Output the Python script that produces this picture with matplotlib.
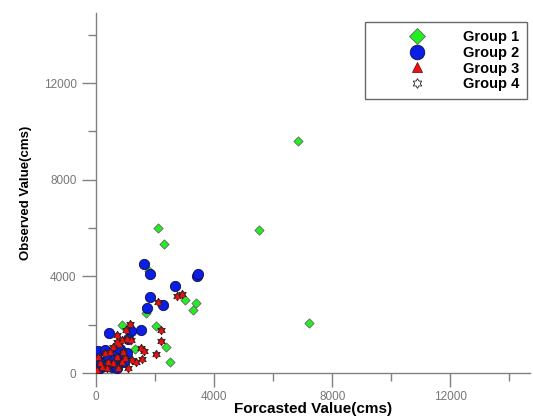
import numpy as np
import matplotlib
matplotlib.use("Agg")
import matplotlib.pyplot as plt
from matplotlib.path import Path
from matplotlib.lines import Line2D

plt.rcParams['font.family'] = ['Liberation Sans', 'DejaVu Sans']

# ---- data ----
g1x = [6847, 5525, 7220, 2100, 2305, 1807, 3017, 3400, 3277, 1705, 893, 2045, 2373, 1333, 2508, 600, 400]
g1y = [9590, 5911, 2067, 5994, 5333, 4229, 3018, 2906, 2604, 2480, 1997, 1943, 1088, 1005, 455, 700, 450]

g2x = [1627, 1830, 3435, 3440, 2678, 1830, 2260, 1740, 1525, 1175, 429, 1096, 79, 305, 644, 814, 1040,
       79, 249, 531, 757, 870, 418, 136, 600, 950, 350, 700]
g2y = [4506, 4093, 4023, 4110, 3610, 3129, 2811, 2687, 1791, 1736, 1654, 1392, 909, 951, 840, 980, 810,
       537, 397, 262, 397, 674, 674, 194, 550, 450, 300, 200]

g3x = [2090, 2757, 2927, 1153, 1006, 2203, 2192, 712, 870, 1186, 1514, 1615, 2034, 1548, 1096, 1344,
       1040, 791, 576, 700, 305, 475, 700, 927, 1209, 362, 22, 192, 588, 870, 983, 418, 136, 757, 79]
g3y = [2921, 3197, 3253, 2025, 1777, 1791, 1306, 1557, 1350, 1364, 1020, 923, 799, 564, 207, 468,
       1405, 1213, 1088, 1295, 810, 882, 674, 882, 537, 194, 124, 262, 397, 468, 607, 468, 397, 194, 674]

g4x = list(g3x)
g4y = list(g3y)

labels = ["Group 1", "Group 2", "Group 3", "Group 4"]
xticks_major = [0, 4000, 8000, 12000]
yticks_major = [0, 4000, 8000, 12000]

# hexagram marker (star of David outline)
ang = np.deg2rad(np.arange(12) * 30 + 90)
rad = np.where(np.arange(12) % 2 == 0, 1.0, 1.0 / np.sqrt(3))
verts = np.column_stack([rad * np.cos(ang), rad * np.sin(ang)])
verts = np.vstack([verts, verts[:1]])
codes = [Path.MOVETO] + [Path.LINETO] * 11 + [Path.CLOSEPOLY]
hexagram = Path(verts, codes)

fig = plt.figure(figsize=(5.33, 4.19), dpi=100)
ax = fig.add_axes([96 / 533, 46 / 419, 434 / 533, 360 / 419])

ax.scatter(g1x, g1y, marker='D', s=22, c='#22ee22', edgecolors='#666666', linewidths=0.6, zorder=3)
ax.scatter(g2x, g2y, marker='o', s=55, c='#0a1ee6', edgecolors='#101040', linewidths=0.6, zorder=4)
ax.scatter(g4x, g4y, marker=hexagram, s=38, c='#991111', edgecolors='#222222', linewidths=0.6, zorder=5)
ax.scatter(g3x, g3y, marker='^', s=12, c='#ee1111', edgecolors='#ee1111', linewidths=0.3, zorder=6)

ax.set_xlim(0, 14700)
ax.set_ylim(0, 14900)
ax.set_xticks(xticks_major)
ax.set_yticks(yticks_major)
ax.set_xticks([2000, 6000, 10000, 14000], minor=True)
ax.set_yticks([2000, 6000, 10000, 14000], minor=True)

gray = '#808080'
for s in ['top', 'right']:
    ax.spines[s].set_visible(False)
for s in ['left', 'bottom']:
    ax.spines[s].set_color(gray)
    ax.spines[s].set_linewidth(1.0)
ax.tick_params(which='major', length=10, width=1.0, color=gray, labelcolor='#777777', labelsize=8.5, pad=4)
ax.tick_params(axis='x', which='major', pad=3)
ax.tick_params(which='minor', length=5.5, width=1.0, color=gray)

ax.set_xlabel("Forcasted Value(cms)", fontsize=11, fontweight='bold', labelpad=-0.5)
ax.set_ylabel("Observed Value(cms)", fontsize=9.5, fontweight='bold', labelpad=8)

handles = [
    Line2D([], [], linestyle='none', marker='D', markersize=8, markerfacecolor='#22ee22', markeredgecolor='#666666', markeredgewidth=0.6),
    Line2D([], [], linestyle='none', marker='o', markersize=10.5, markerfacecolor='#0a1ee6', markeredgecolor='#101040', markeredgewidth=0.6),
    Line2D([], [], linestyle='none', marker='^', markersize=7, markerfacecolor='#ee1111', markeredgecolor='#660000', markeredgewidth=0.5),
    Line2D([], [], linestyle='none', marker=hexagram, markersize=7, markerfacecolor='white', markeredgecolor='#222222', markeredgewidth=0.6),
]
leg = ax.legend(handles, labels, loc='upper right', bbox_to_anchor=(527 / 533, 397 / 419),
                bbox_transform=fig.transFigure, borderaxespad=0, frameon=True, fancybox=False,
                handlelength=6.1, handletextpad=0.05, borderpad=0.55, labelspacing=0.12,
                prop={'weight': 'bold', 'size': 10.5})
leg.get_frame().set_edgecolor('#444444')
leg.get_frame().set_linewidth(1.0)

fig.savefig("out.png", dpi=100)
